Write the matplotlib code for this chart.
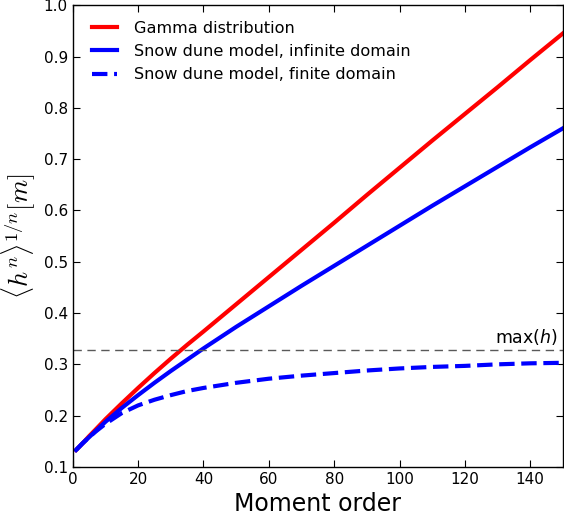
import matplotlib
matplotlib.use("Agg")
import matplotlib.pyplot as plt

# moment order
order = [1, 3, 5, 7, 10, 15, 20, 25, 30, 35, 40, 50, 60, 70, 80, 90, 100, 110, 120, 130, 140, 150]

# <h^n>^(1/n)
gamma = [0.133, 0.146, 0.160, 0.173, 0.193, 0.224, 0.254, 0.283, 0.311, 0.338, 0.364,
         0.417, 0.470, 0.523, 0.576, 0.630, 0.683, 0.736, 0.788, 0.840, 0.893, 0.945]
dune_inf = [0.133, 0.146, 0.158, 0.170, 0.188, 0.215, 0.240, 0.264, 0.287, 0.309, 0.331,
            0.373, 0.413, 0.453, 0.492, 0.531, 0.570, 0.609, 0.647, 0.685, 0.723, 0.760]
dune_fin = [0.133, 0.146, 0.158, 0.169, 0.184, 0.205, 0.220, 0.231, 0.240, 0.248, 0.254,
            0.264, 0.272, 0.278, 0.283, 0.288, 0.292, 0.295, 0.297, 0.300, 0.302, 0.303]
h_max = 0.327

fig = plt.figure(figsize=(5.64, 5.2), dpi=100)
ax = fig.add_axes([0.129, 0.102, 0.869, 0.888])

ax.plot(order, gamma, '-', color='red', lw=3, label='Gamma distribution')
ax.plot(order, dune_inf, '-', color='blue', lw=3, label='Snow dune model, infinite domain')
ax.plot(order, dune_fin, '--', color='blue', lw=3, label='Snow dune model, finite domain')
ax.axhline(h_max, color='0.35', lw=1, ls='--', dashes=(6, 4))
ax.text(148.5, h_max + 0.007, 'max($h$)', ha='right', va='bottom', fontsize=12.5)

ax.set_xlim(0, 150)
ax.set_ylim(0.1, 1.0)
ax.set_xticks([0, 20, 40, 60, 80, 100, 120, 140])
ax.set_yticks([0.1, 0.2, 0.3, 0.4, 0.5, 0.6, 0.7, 0.8, 0.9, 1.0])
ax.tick_params(direction='in', top=True, right=True, labelsize=11, length=5)
for s in ax.spines.values():
    s.set_linewidth(1.0)

ax.set_xlabel('Moment order', fontsize=17)
ax.set_ylabel(r'$\langle h^n\rangle^{1/n}[m]$', fontsize=19, math_fontfamily='cm')

ax.legend(loc='upper left', bbox_to_anchor=(0.009, 1.0), frameon=False, fontsize=11.6,
          handlelength=1.55, handletextpad=1.0, labelspacing=0.52, borderaxespad=0.55)

fig.savefig('out.png', dpi=100)
